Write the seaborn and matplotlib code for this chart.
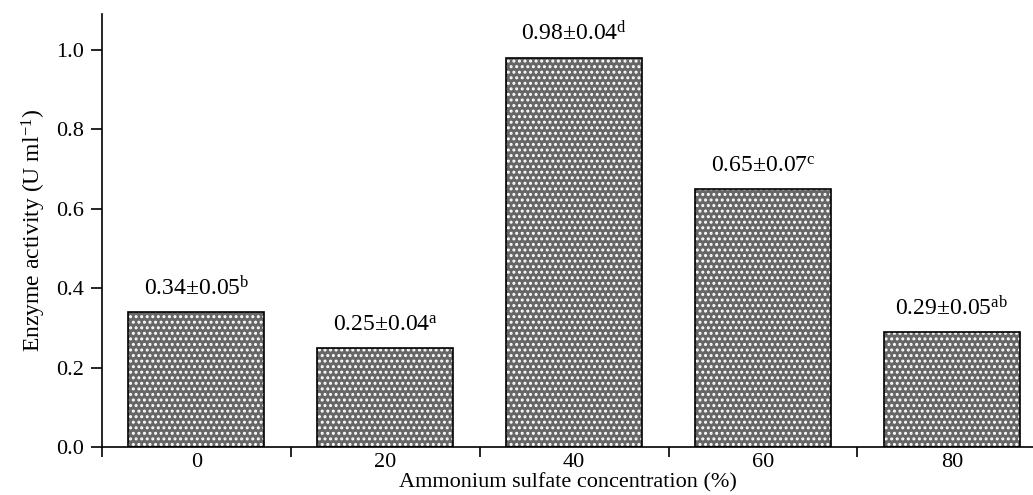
import matplotlib
matplotlib.use("Agg")
import matplotlib.pyplot as plt
import seaborn as sns
import pandas as pd

categories = ["0", "20", "40", "60", "80"]
values = [0.34, 0.25, 0.98, 0.65, 0.29]
errors = [0.05, 0.04, 0.04, 0.07, 0.05]
letters = ["b", "a", "d", "c", "ab"]

sns.set_style("ticks")
plt.rcParams["font.family"] = ["Liberation Serif", "DejaVu Serif"]
plt.rcParams["mathtext.fontset"] = "custom"
plt.rcParams["mathtext.rm"] = "Liberation Serif"
plt.rcParams["mathtext.it"] = "Liberation Serif:italic"
plt.rcParams["hatch.linewidth"] = 1.4
plt.rcParams["text.color"] = "black"
plt.rcParams["axes.labelcolor"] = "black"
plt.rcParams["xtick.color"] = "black"
plt.rcParams["ytick.color"] = "black"
plt.rcParams["axes.edgecolor"] = "black"

df = pd.DataFrame({"conc": categories, "act": values})

fig = plt.figure(figsize=(10.33, 4.95), dpi=100)
ax = fig.add_axes([0.0987, 0.096, 0.9013, 0.876])

sns.barplot(data=df, x="conc", y="act", ax=ax, color="#666666",
            width=0.72, saturation=1, edgecolor="white", linewidth=0,
            hatch="...", errorbar=None)
sns.barplot(data=df, x="conc", y="act", ax=ax, fill=False,
            width=0.72, edgecolor="black", linewidth=1.2, errorbar=None)

for i, (v, e, l) in enumerate(zip(values, errors, letters)):
    ax.text(i, v + 0.03, f"{v:.2f}±{e:.2f}" + r"$^{\mathrm{" + l + "}}$",
            ha="center", va="bottom", fontsize=17)

ax.set_ylim(0, 1.09)
ax.set_xlim(-0.5, 4.43)
ax.set_yticks([0.0, 0.2, 0.4, 0.6, 0.8, 1.0])
ax.set_yticklabels([f"{t:.1f}" for t in [0.0, 0.2, 0.4, 0.6, 0.8, 1.0]])
ax.set_xticks(range(5))
ax.set_xticklabels(categories)
ax.tick_params(axis="x", length=0, labelsize=16, pad=4)
ax.set_xticks([-0.5, 0.5, 1.5, 2.5, 3.5], minor=True)
ax.tick_params(axis="x", which="minor", length=7, width=1.2, direction="out")
ax.tick_params(axis="y", length=8, width=1.2, labelsize=16, direction="out", pad=5)

for s in ["top", "right"]:
    ax.spines[s].set_visible(False)
ax.spines["left"].set_linewidth(1.2)
ax.spines["bottom"].set_linewidth(1.2)

ax.set_xlabel("Ammonium sulfate concentration (%)", fontsize=16, labelpad=1)
ax.set_ylabel(r"Enzyme activity (U ml$^{\mathrm{-1}}$)", fontsize=17, labelpad=6)

fig.savefig("out.png", dpi=100)
